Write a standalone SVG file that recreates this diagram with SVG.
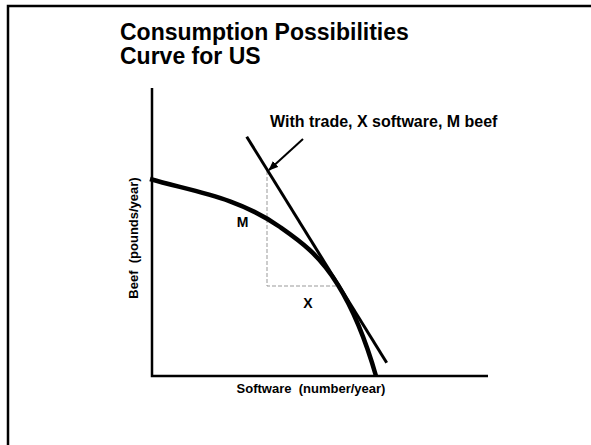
<svg xmlns="http://www.w3.org/2000/svg" width="591" height="445" viewBox="0 0 591 445">
<style>
text{font-family:"Liberation Sans",Arial,sans-serif;font-weight:bold;fill:#000}
.title{font-size:23px}
.lbl{font-size:16px}
.ax{font-size:13px}
.axis{stroke:#000;stroke-width:2.5;fill:none}
.dash{stroke:#999;stroke-width:1;stroke-dasharray:4 2;fill:none}
</style>
<defs>
<marker id="ah" markerWidth="10" markerHeight="8" refX="9" refY="4" orient="auto" markerUnits="userSpaceOnUse">
<path d="M0,0 L10,4 L0,8 Z" fill="#000"/>
</marker>
</defs>
<rect width="591" height="445" fill="#fff"/>
<path d="M8,445 V6 H591" fill="none" stroke="#000" stroke-width="2.5"/>
<g id="title">
<text class="title" x="120" y="40">Consumption Possibilities</text>
<text class="title" x="120" y="64">Curve for US</text>
</g>
<g id="axes">
<path class="axis" d="M152,88 V376 H488"/>
<text class="ax" x="311" y="393" text-anchor="middle" xml:space="preserve">Software  (number/year)</text>
<text class="ax" transform="translate(138,238) rotate(-90)" text-anchor="middle" xml:space="preserve">Beef  (pounds/year)</text>
</g>
<g id="connectors">
<path class="dash" d="M267,171 V286 H336"/>
<path d="M150,179 C193.3,191.6 236.7,196.7 280,227 C299.3,240.5 318.7,253.8 338,285 C350.7,305.4 363.3,331.7 376,376" fill="none" stroke="#000" stroke-width="4.5"/>
<path d="M246.7,136.7 L386.7,362.7" stroke="#000" stroke-width="3" fill="none"/>
<path d="M303,139 L269,170" stroke="#000" stroke-width="2" fill="none" marker-end="url(#ah)"/>
</g>
<g id="labels">
<text class="lbl" x="270" y="127">With trade, X software, M beef</text>
<text class="lbl" x="242.5" y="227" text-anchor="middle" style="font-size:14px">M</text>
<text class="lbl" x="308" y="308" text-anchor="middle" style="font-size:14px">X</text>
</g>
</svg>
